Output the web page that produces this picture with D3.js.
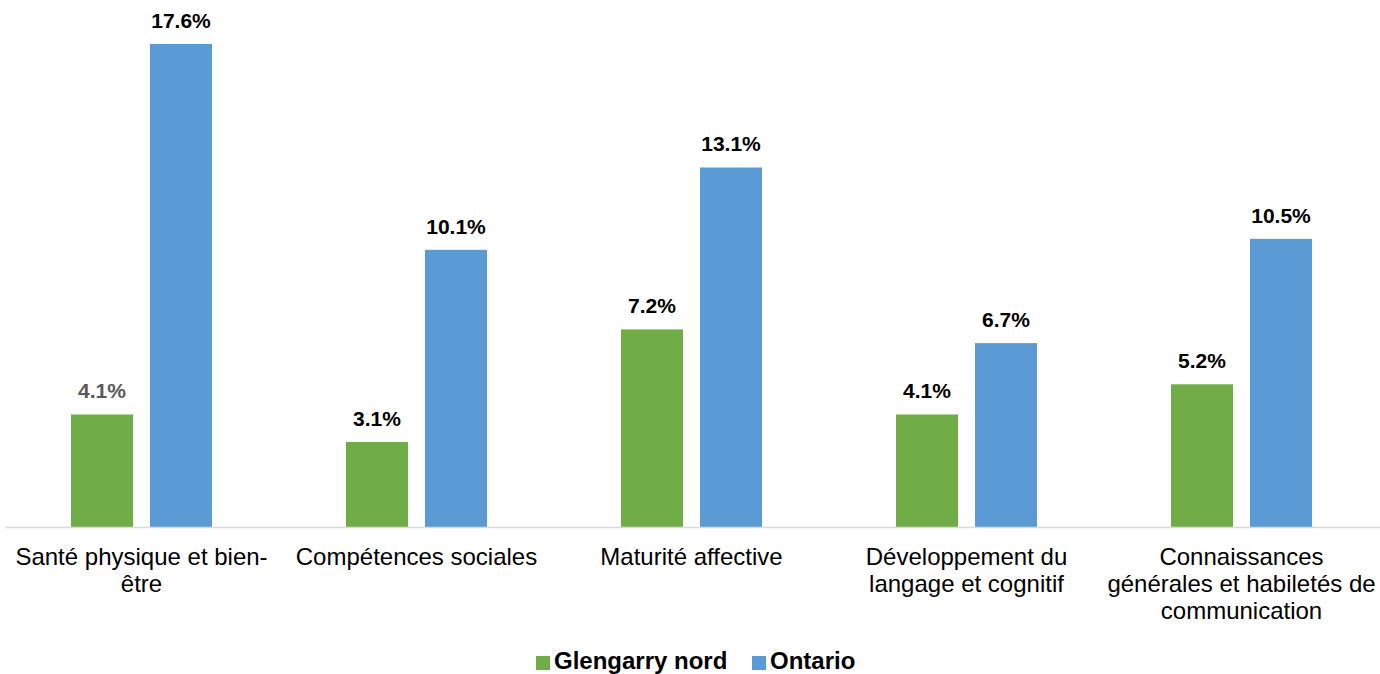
<!DOCTYPE html>
<html><head><meta charset="utf-8">
<script src="https://cdn.jsdelivr.net/npm/d3@7"></script>
<style>body{margin:0;background:#fff}svg{display:block;font-family:"Liberation Sans",Arial,sans-serif}</style>
</head><body><svg id="c" width="1380" height="674"></svg>
<script>
const categories = ["Santé physique et bien-|être","Compétences sociales","Maturité affective","Développement du|langage et cognitif","Connaissances|générales et habiletés de|communication"];
const seriesNames = ["Glengarry nord","Ontario"];
const glengarry = [4.1,3.1,7.2,4.1,5.2];
const ontario = [17.6,10.1,13.1,6.7,10.5];
const colors = ["#70AD47","#5B9BD5"];

const svg = d3.select("#c");
const plotLeft = 5, plotRight = 1380, base = 527, plotTop = 44;
const x0 = d3.scaleBand().domain(d3.range(categories.length)).range([plotLeft,plotRight]).paddingInner(0.0).paddingOuter(0);
const y = d3.scaleLinear().domain([0,17.6]).range([base,plotTop]);
const data = categories.map((c,i)=>({c,i,vals:[glengarry[i],ontario[i]]}));

const g = svg.selectAll("g.cat").data(data).join("g").attr("class","cat")
  .attr("transform",d=>`translate(${x0(d.i)},0)`);
const bw = 62, gap = 17;
const cw = x0.bandwidth();
const x1 = k => cw/2 - (bw*2+gap)/2 + k*(bw+gap) - 1;
g.selectAll("rect").data(d=>d.vals.map((v,k)=>({v,k}))).join("rect")
  .attr("x",d=>x1(d.k)).attr("width",bw)
  .attr("y",d=>y(d.v)).attr("height",d=>base-y(d.v))
  .attr("fill",d=>colors[d.k]);
g.selectAll("text.val").data((d)=>d.vals.map((v,k)=>({v,k,i:d.i}))).join("text").attr("class","val")
  .attr("x",d=>x1(d.k)+bw/2).attr("y",d=>y(d.v)-16)
  .attr("text-anchor","middle").attr("font-size","21px").attr("font-weight","bold")
  .attr("fill",d=>(d.i===0&&d.k===0)?"#595959":"#000")
  .text(d=>d.v.toFixed(1)+"%");

svg.append("line").attr("x1",plotLeft).attr("x2",plotRight).attr("y1",base+0.5).attr("y2",base+0.5)
  .attr("stroke","#d9d9d9").attr("stroke-width",1.5);

g.append("text").attr("text-anchor","middle").attr("font-size","24px").attr("fill","#000")
  .selectAll("tspan").data(d=>d.c.split("|")).join("tspan")
  .attr("x",cw/2-1).attr("y",(d,j)=>565+j*27).text(d=>d);

const legX = [536,752];
const leg = svg.selectAll("g.leg").data(seriesNames).join("g").attr("class","leg")
  .attr("transform",(d,i)=>`translate(${legX[i]},0)`);
leg.append("rect").attr("x",0).attr("y",656).attr("width",14).attr("height",14).attr("fill",(d,i)=>colors[i]);
leg.append("text").attr("x",18).attr("y",669).attr("font-size","24px").attr("font-weight","bold").text(d=>d);
</script></body></html>
